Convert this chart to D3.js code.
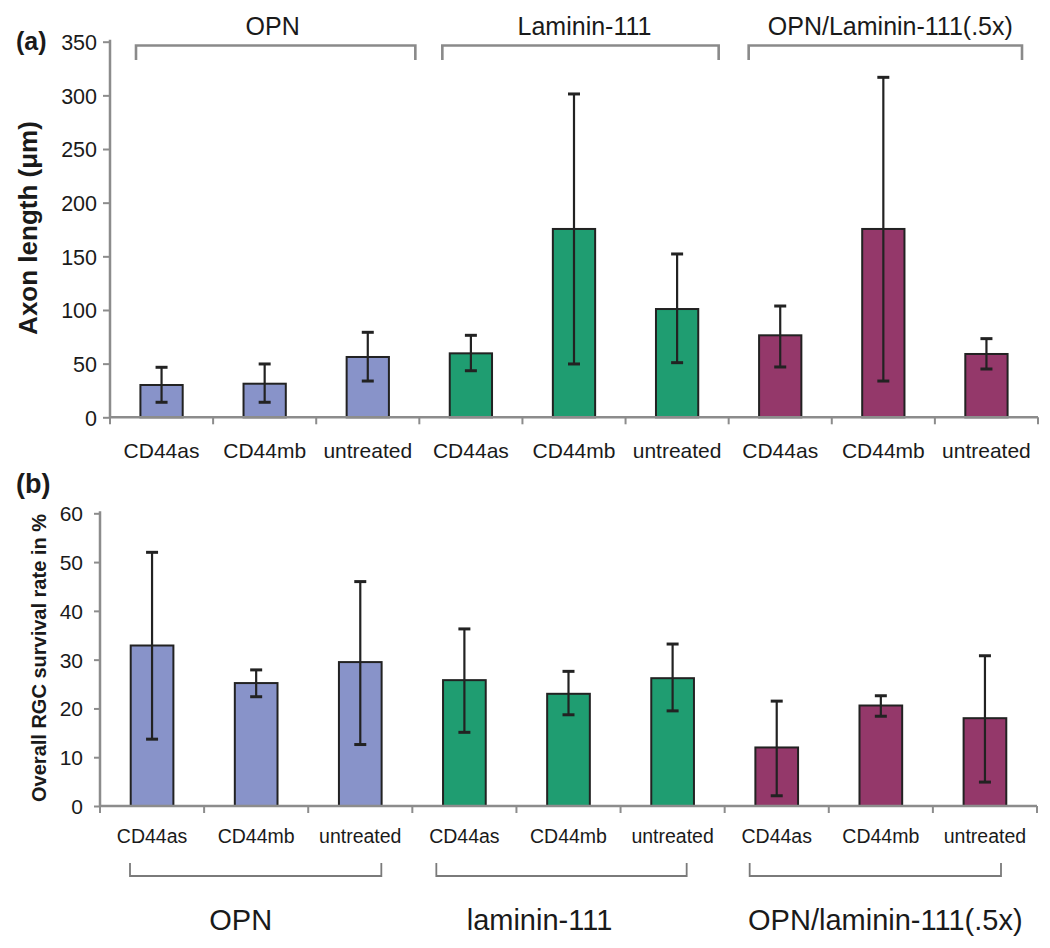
<!DOCTYPE html>
<html>
<head>
<meta charset="utf-8">
<script src="https://cdn.jsdelivr.net/npm/d3@7"></script>
<style>
  html, body { margin: 0; padding: 0; background: #fff; }
  svg { display: block; }
  text { font-family: "Liberation Sans", Arial, Helvetica, sans-serif; fill: #1a1a1a; }
</style>
</head>
<body>
<svg id="chart" width="1050" height="948"></svg>
<script>
// ---------------- data ----------------
const categories = ["CD44as", "CD44mb", "untreated",
                    "CD44as", "CD44mb", "untreated",
                    "CD44as", "CD44mb", "untreated"];
const groupOf = [0, 0, 0, 1, 1, 1, 2, 2, 2];
const groupsTop = ["OPN", "Laminin-111", "OPN/Laminin-111(.5x)"];
const groupsBottom = ["OPN", "laminin-111", "OPN/laminin-111(.5x)"];

// (a) axon length (µm)
const axonMean = [30.1, 31.3, 56.2, 59.6, 175.5, 100.9, 76.4, 175.5, 59.0];
const axonLow  = [14.0, 14.0, 33.8, 43.4, 49.7, 50.9, 46.9, 33.8, 45.0];
const axonHigh = [46.6, 49.7, 79.2, 76.4, 301.3, 152.2, 103.7, 316.8, 73.3];
const axonTicks = [0, 50, 100, 150, 200, 250, 300, 350];

// (b) overall RGC survival rate (%)
const survMean = [32.9, 25.2, 29.5, 25.8, 23.0, 26.2, 12.0, 20.6, 18.0];
const survLow  = [13.7, 22.4, 12.6, 15.1, 18.7, 19.5, 2.1, 18.4, 4.9];
const survHigh = [52.0, 27.9, 46.0, 36.3, 27.6, 33.2, 21.5, 22.6, 30.8];
const survTicks = [0, 10, 20, 30, 40, 50, 60];

const groupColors = ["#8893c9", "#1f9d71", "#94386a"];

// ---------------- drawing ----------------
const svg = d3.select("#chart");
const idx = d3.range(categories.length);

function panel(opts) {
  const g = svg.append("g");
  const x = d3.scaleBand().domain(idx).range([opts.x0, opts.x1]).padding(0);
  const y = d3.scaleLinear().domain(opts.domain).range([opts.y0, opts.y1]);
  const bw = x.bandwidth() * 0.41;

  // y axis
  const yAxis = d3.axisLeft(y).tickValues(opts.ticks).tickSize(opts.tickSize)
    .tickPadding(opts.tickPad).tickFormat(d3.format("d"));
  const ya = g.append("g").attr("transform", `translate(${opts.x0},0)`).call(yAxis);
  ya.select(".domain").attr("stroke", "#8c8c8c").attr("stroke-width", 2.5)
    .attr("d", `M0,${opts.y1 - opts.topExtra}V${opts.y0}`);
  ya.selectAll(".tick line").attr("stroke", "#8c8c8c").attr("stroke-width", 2);
  ya.selectAll(".tick text").style("font-size", opts.tickFont + "px").attr("fill", "#1a1a1a")
    .attr("dy", "0.36em");

  // bars
  g.selectAll("rect.bar").data(idx).join("rect")
    .attr("class", "bar")
    .attr("x", i => x(i) + (x.bandwidth() - bw) / 2)
    .attr("width", bw)
    .attr("y", i => y(opts.mean[i]))
    .attr("height", i => y(0) - y(opts.mean[i]))
    .attr("fill", i => groupColors[groupOf[i]])
    .attr("stroke", "#222").attr("stroke-width", 2);

  // x axis line and boundary ticks
  g.append("line").attr("x1", opts.x0).attr("x2", opts.x1)
    .attr("y1", y(0)).attr("y2", y(0)).attr("stroke", "#8c8c8c").attr("stroke-width", 2.5);
  const bounds = idx.map(i => x(i)).concat([opts.x1]);
  g.selectAll("line.bt").data(bounds).join("line").attr("class", "bt")
    .attr("x1", d => d).attr("x2", d => d)
    .attr("y1", y(0)).attr("y2", y(0) + 7)
    .attr("stroke", "#8c8c8c").attr("stroke-width", 2);

  // error bars
  const cap = 6;
  const eb = g.selectAll("g.err").data(idx).join("g").attr("class", "err");
  eb.append("line")
    .attr("x1", i => x(i) + x.bandwidth() / 2).attr("x2", i => x(i) + x.bandwidth() / 2)
    .attr("y1", i => y(opts.low[i])).attr("y2", i => y(opts.high[i]))
    .attr("stroke", "#222").attr("stroke-width", 2.2);
  eb.append("line")
    .attr("x1", i => x(i) + x.bandwidth() / 2 - cap).attr("x2", i => x(i) + x.bandwidth() / 2 + cap)
    .attr("y1", i => y(opts.high[i])).attr("y2", i => y(opts.high[i]))
    .attr("stroke", "#222").attr("stroke-width", 3);
  eb.append("line")
    .attr("x1", i => x(i) + x.bandwidth() / 2 - cap).attr("x2", i => x(i) + x.bandwidth() / 2 + cap)
    .attr("y1", i => y(opts.low[i])).attr("y2", i => y(opts.low[i]))
    .attr("stroke", "#222").attr("stroke-width", 3);

  // category labels
  g.selectAll("text.cat").data(idx).join("text").attr("class", "cat")
    .attr("x", i => x(i) + x.bandwidth() / 2)
    .attr("y", opts.catY)
    .attr("text-anchor", "middle")
    .style("font-size", opts.catFont + "px")
    .text(i => categories[i]);

  return { g, x, y };
}

// ---- panel (a)
const A = panel({
  x0: 110, x1: 1038, y0: 417.3, y1: 41.7, domain: [0, 350], ticks: axonTicks,
  tickSize: 7, tickPad: 6, tickFont: 21.5, topExtra: 2,
  mean: axonMean, low: axonLow, high: axonHigh, catY: 458, catFont: 21
});

// top group brackets
const topBr = [0, 1, 2].map(gi => {
  const s = A.x(gi * 3), e = A.x(gi * 3 + 2) + A.x.bandwidth();
  return { gi, l: s + 26 - gi * 3, r: e - 4 - gi * 6 };
});
const tb = A.g.selectAll("g.tbr").data(topBr).join("g").attr("class", "tbr");
tb.append("path")
  .attr("d", d => `M${d.l},60V45.5H${d.r}V60`)
  .attr("fill", "none").attr("stroke", "#8a8a8a").attr("stroke-width", 2.6);
tb.append("text")
  .attr("x", d => (d.l + d.r) / 2 + [-3, 4, 5][d.gi]).attr("y", 35)
  .attr("text-anchor", "middle").style("font-size", "25px")
  .text(d => groupsTop[d.gi]);

svg.append("text").attr("x", 16).attr("y", 50).style("font-size", "25px")
  .style("font-weight", "bold").text("(a)");
svg.append("text").attr("transform", "translate(37,228) rotate(-90)")
  .attr("text-anchor", "middle").style("font-size", "26px").style("font-weight", "bold")
  .text("Axon length (\u03bcm)");

// ---- panel (b)
const B = panel({
  x0: 100, x1: 1037, y0: 806, y1: 513.3, domain: [0, 60], ticks: survTicks,
  tickSize: 6, tickPad: 11, tickFont: 21, topExtra: 2,
  mean: survMean, low: survLow, high: survHigh, catY: 843, catFont: 19.5
});

const lOff = [30, 24, 25], rOff = [31, 38, 36];
const botBr = [0, 1, 2].map(gi => {
  const s = B.x(gi * 3), e = B.x(gi * 3 + 2) + B.x.bandwidth();
  return { gi, l: s + lOff[gi], r: e - rOff[gi] };
});
const bb = B.g.selectAll("g.bbr").data(botBr).join("g").attr("class", "bbr");
bb.append("path")
  .attr("d", d => `M${d.l},863V876H${d.r}V863`)
  .attr("fill", "none").attr("stroke", "#7a7a7a").attr("stroke-width", 1.8);
bb.append("text")
  .attr("x", d => (d.l + d.r) / 2 + [-15, -22, 10][d.gi]).attr("y", 930)
  .attr("text-anchor", "middle").style("font-size", "29px")
  .text(d => groupsBottom[d.gi]);

svg.append("text").attr("x", 16).attr("y", 493).style("font-size", "27px")
  .style("font-weight", "bold").text("(b)");
svg.append("text").attr("transform", "translate(46,658) rotate(-90)")
  .attr("text-anchor", "middle").style("font-size", "20px").style("font-weight", "bold")
  .text("Overall RGC survival rate in %");
</script>
</body>
</html>
